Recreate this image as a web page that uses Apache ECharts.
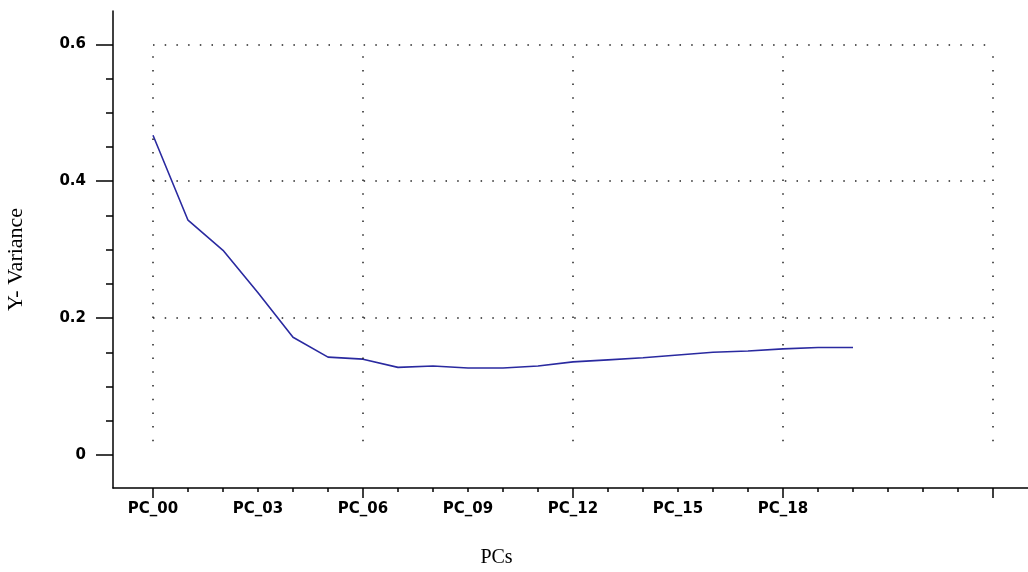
<!DOCTYPE html>
<html>
<head>
<meta charset="utf-8">
<script src="https://cdn.jsdelivr.net/npm/echarts@6/dist/echarts.min.js"></script>
<style>
html,body{margin:0;padding:0;background:#fff;}
#c{width:1028px;height:572px;}
</style>
</head>
<body>
<div id="c"></div>
<script>
// ---- data ----
const categories = ['PC_00','PC_01','PC_02','PC_03','PC_04','PC_05','PC_06','PC_07','PC_08','PC_09','PC_10',
                    'PC_11','PC_12','PC_13','PC_14','PC_15','PC_16','PC_17','PC_18','PC_19','PC_20'];
const variance = [0.467,0.343,0.299,0.237,0.172,0.143,0.140,0.128,0.130,0.127,0.127,
                  0.130,0.136,0.139,0.142,0.146,0.150,0.152,0.155,0.157,0.157];
const xLabelAt = [0, 3, 6, 9, 12, 15, 18];
const xMajorTicks = [0, 6, 12, 18, 24];
const xMinorTicks = [1,2,3,4,5,7,8,9,10,11,13,14,15,16,17,19,20,21,22,23];
const yMajorTicks = [0, 0.2, 0.4, 0.6];
const yMinorTicks = [0.05,0.1,0.15,0.25,0.3,0.35,0.45,0.5,0.55];
const yTickLabels = ['0', '0.2', '0.4', '0.6'];
const hGridLines = [0.2, 0.4, 0.6];
const vGridLines = [0, 6, 12, 18, 24];
const vGridBottom = 0.02;

const chart = echarts.init(document.getElementById('c'), null, {renderer:'canvas'});
const labelFont = {fontFamily:'DejaVu Sans', fontWeight:'bold', fontSize:15, color:'#000'};
const dotted = {color:'#222', width:1.5};
const xRange = {min:-1.143, max:25.0};
const yRange = {min:-0.0482, max:0.6486};

chart.setOption({
  animation:false,
  backgroundColor:'#fff',
  grid:[{left:113, right:0, top:11, bottom:84, outerBoundsMode:'none', containLabel:false}],
  xAxis:[
    Object.assign({type:'value', position:'bottom',
     axisLine:{show:true, onZero:false, lineStyle:{color:'#000', width:1.5}},
     axisTick:{show:true, length:10, customValues:xMajorTicks, lineStyle:{color:'#000', width:1.5}},
     axisLabel:Object.assign({show:true, margin:14, customValues:xLabelAt,
        formatter:v => categories[Math.round(v)] || ''}, labelFont),
     splitLine:{show:false},
     name:'PCs', nameLocation:'middle', nameGap:60,
     nameTextStyle:{fontFamily:'Liberation Serif', fontSize:20, color:'#000', padding:[0,148,0,0]}}, xRange),
    Object.assign({type:'value', position:'bottom',
     axisLine:{show:false, onZero:false},
     axisTick:{show:true, length:4, customValues:xMinorTicks, lineStyle:{color:'#000', width:1.5}},
     axisLabel:{show:false}, splitLine:{show:false}}, xRange)
  ],
  yAxis:[
    Object.assign({type:'value', position:'left',
     axisLine:{show:true, onZero:false, lineStyle:{color:'#000', width:1.5}},
     axisTick:{show:true, length:17, customValues:yMajorTicks, lineStyle:{color:'#000', width:1.5}},
     axisLabel:Object.assign({show:true, margin:27, customValues:yMajorTicks,
        formatter:v => yTickLabels[yMajorTicks.findIndex(t => Math.abs(t - v) < 1e-6)] || ''}, labelFont),
     splitLine:{show:false},
     name:'Y- Variance', nameLocation:'middle', nameGap:86, nameRotate:90,
     nameTextStyle:{fontFamily:'Liberation Serif', fontSize:22, color:'#000', padding:[0,20,0,0]}}, yRange),
    Object.assign({type:'value', position:'left',
     axisLine:{show:false, onZero:false},
     axisTick:{show:true, length:7, customValues:yMinorTicks, lineStyle:{color:'#000', width:1.5}},
     axisLabel:{show:false}, splitLine:{show:false}}, yRange)
  ],
  series:[{
    type:'line', xAxisIndex:0, yAxisIndex:0,
    data: variance.map((v,i) => [i, v]),
    showSymbol:false, smooth:false,
    lineStyle:{color:'#2a2aa0', width:1.6},
    markLine:{
      silent:true, symbol:['none','none'], label:{show:false},
      data: vGridLines.map(x => [{coord:[x, vGridBottom], lineStyle:Object.assign({type:[1.5,12.2]}, dotted)},
                                 {coord:[x, yMajorTicks[yMajorTicks.length-1]]}])
        .concat(hGridLines.map(y => [{coord:[vGridLines[0], y], lineStyle:Object.assign({type:[1.5,10.2]}, dotted)},
                                     {coord:[vGridLines[vGridLines.length-1], y]}]))
    }
  }]
});
</script>
</body>
</html>
